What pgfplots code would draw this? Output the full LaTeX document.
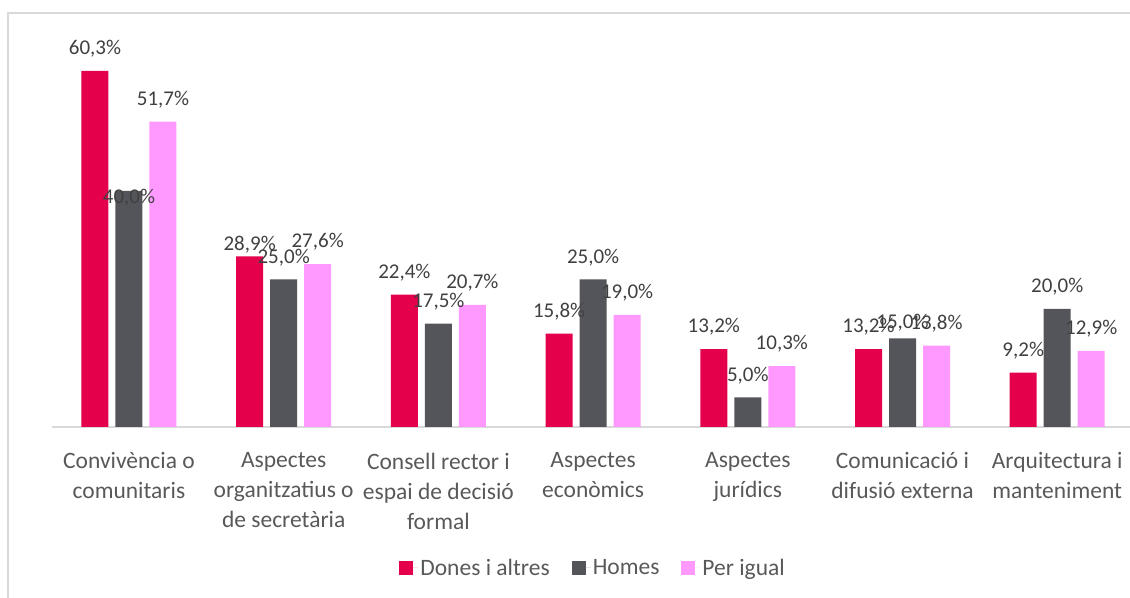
\documentclass[border=0pt]{standalone}
\usepackage{fontspec}
\setmainfont{Carlito}
\usepackage{pgfplots}
\usepackage{pgfplotstable}
\pgfplotsset{compat=1.18}
\definecolor{redbar}{HTML}{E4004B}
\definecolor{graybar}{HTML}{54555A}
\definecolor{pinkbar}{HTML}{FF99FF}
\definecolor{axisgray}{HTML}{D9D9D9}
\definecolor{labelgray}{HTML}{595959}
\definecolor{valgray}{HTML}{404040}

% value and vertical shift (bp) of its label
\pgfplotstableread{
x  red  dr  gray dg  pink dp
0  60.3 10  40.0 -19 51.7 10
1  28.9 0   25.0 10  27.6 10
2  22.4 10  17.5 10  20.7 10
3  15.8 10  25.0 10  19.0 10
4  13.2 10  5.0  10  10.3 10
5  13.2 10  15.0 4   13.8 10
6  9.2  10  20.0 10  12.9 10
}\datatable

\begin{document}
\begin{tikzpicture}[x=1bp,y=1bp]
  \useasboundingbox (0,0) rectangle (1130,598);
  % chart frame: only top and left edges are visible
  \draw[axisgray, line width=2bp] (8,-5) -- (8,585) -- (1140,585);
  \begin{axis}[
    at={(51.6bp,171bp)}, anchor=south west,
    scale only axis,
    width=1083bp, height=383.8bp,
    xmin=-0.5, xmax=6.5,
    ymin=0, ymax=65,
    axis y line=none,
    axis x line*=bottom,
    x axis line style={axisgray, line width=2bp, -},
    xtick={0,...,6},
    xtick style={draw=none},
    xticklabels={
      {Convivència o\\comunitaris},
      {Aspectes\\organitzatius o\\de secretària},
      {Consell rector i\\espai de decisió\\formal},
      {Aspectes\\econòmics},
      {Aspectes\\jurídics},
      {Comunicació i\\difusió externa},
      {Arquitectura i\\manteniment}},
    xticklabel style={align=center, font=\fontsize{23.5bp}{30bp}\selectfont,
      text=labelgray, anchor=north, yshift=-18bp},
    ybar, bar width=27bp,
    /pgf/number format/assume math mode=true,
    nodes near coords={\pgfmathprintnumber[fixed,fixed zerofill,precision=1,use comma]{\pgfplotspointmeta}\%},
    every node near coord/.append style={font=\fontsize{21bp}{24bp}\selectfont,
      text=valgray, yshift=\dy bp},
    legend columns=3,
    legend style={draw=none, fill=none, at={(0.5,-0.367)}, anchor=center,
      font=\fontsize{23.5bp}{28bp}\selectfont, text=labelgray,
      /tikz/every even column/.append style={column sep=20bp}},
    legend image code/.code={\path (0bp,0bp) -- (19bp,0bp);
      \fill[#1] (0bp,-7bp) rectangle (14bp,7bp);},
    clip=false,
  ]
    \addplot[fill=redbar, draw=none, bar shift=-34bp,
      visualization depends on={\thisrow{dr} \as \dy}]
      table[x=x, y=red] {\datatable};
    \addlegendentry{Dones i altres}
    \addplot[fill=graybar, draw=none, bar shift=0bp,
      visualization depends on={\thisrow{dg} \as \dy}]
      table[x=x, y=gray] {\datatable};
    \addlegendentry{Homes}
    \addplot[fill=pinkbar, draw=none, bar shift=34bp,
      visualization depends on={\thisrow{dp} \as \dy}]
      table[x=x, y=pink] {\datatable};
    \addlegendentry{Per igual}
  \end{axis}
\end{tikzpicture}
\end{document}
